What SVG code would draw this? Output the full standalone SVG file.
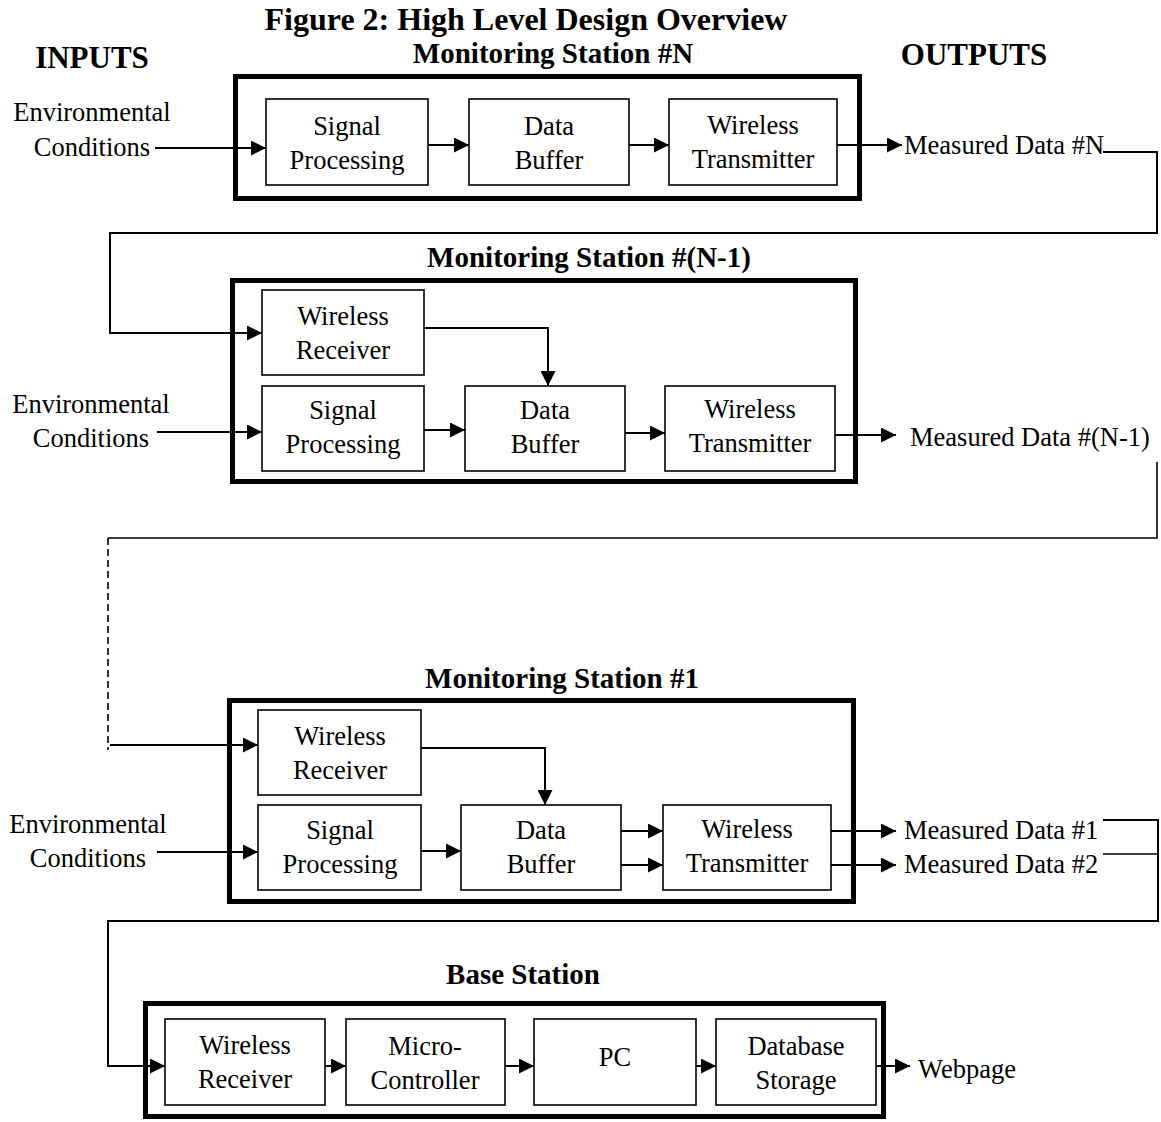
<svg xmlns="http://www.w3.org/2000/svg" width="1161" height="1122" viewBox="0 0 1161 1122">
  <defs>
    <marker id="arrow" markerUnits="userSpaceOnUse" markerWidth="15" markerHeight="15" refX="15" refY="7.5" orient="auto">
      <path d="M0,0 L15,7.5 L0,15 z" fill="#000"/>
    </marker>
    <style>
      text { font-family: "Liberation Serif", "Times New Roman", serif; fill: #000; }
      .lbl { font-size: 26.5px; text-anchor: middle; }
      .out { font-size: 26.5px; }
      .title { font-size: 32px; font-weight: bold; text-anchor: middle; }
      .head { font-size: 31px; font-weight: bold; text-anchor: middle; }
      .stitle { font-size: 29px; font-weight: bold; text-anchor: middle; }
      .station { fill: none; stroke: #000; stroke-width: 5; }
      .block { fill: #fff; stroke: #000; stroke-width: 1.6; }
      .wire { fill: none; stroke: #000; stroke-width: 1.6; }
      .flow { fill: none; stroke: #000; stroke-width: 2; marker-end: url(#arrow); }
      .dash { fill: none; stroke: #000; stroke-width: 1.6; stroke-dasharray: 7 4; }
    </style>
  </defs>
  <rect width="1161" height="1122" fill="#fff"/>

  <!-- headings -->
  <text class="title" x="526" y="30">Figure 2: High Level Design Overview</text>
  <text class="head" x="92" y="68">INPUTS</text>
  <text class="head" x="974" y="65">OUTPUTS</text>

  <!-- input / output labels -->
  <g id="inputs">
    <text class="lbl" x="92" y="121">Environmental</text>
    <text class="lbl" x="92" y="156">Conditions</text>
    <text class="lbl" x="91" y="413">Environmental</text>
    <text class="lbl" x="91" y="447">Conditions</text>
    <text class="lbl" x="88" y="833">Environmental</text>
    <text class="lbl" x="88" y="867">Conditions</text>
  </g>
  <g id="outputs">
    <text class="out" x="904" y="154">Measured Data #N</text>
    <text class="out" x="910" y="446">Measured Data #(N-1)</text>
    <text class="out" x="904" y="839">Measured Data #1</text>
    <text class="out" x="904" y="873">Measured Data #2</text>
    <text class="out" x="918" y="1078">Webpage</text>
  </g>

  <!-- Monitoring Station #N -->
  <g id="station-n">
    <text class="stitle" x="553" y="63">Monitoring Station #N</text>
    <rect class="station" x="235.5" y="76.5" width="624" height="122"/>
    <g id="n-signal">
      <rect class="block" x="266" y="99" width="162" height="86"/>
      <text class="lbl" x="347" y="135">Signal</text>
      <text class="lbl" x="347" y="169">Processing</text>
    </g>
    <g id="n-buffer">
      <rect class="block" x="469" y="99" width="160" height="86"/>
      <text class="lbl" x="549" y="135">Data</text>
      <text class="lbl" x="549" y="169">Buffer</text>
    </g>
    <g id="n-transmitter">
      <rect class="block" x="669" y="99" width="168" height="86"/>
      <text class="lbl" x="753" y="134">Wireless</text>
      <text class="lbl" x="753" y="168">Transmitter</text>
    </g>
  </g>

  <!-- Monitoring Station #(N-1) -->
  <g id="station-n1">
    <text class="stitle" x="589" y="267">Monitoring Station #(N-1)</text>
    <rect class="station" x="232.5" y="280.5" width="623" height="201"/>
    <g id="n1-receiver">
      <rect class="block" x="262" y="290" width="162" height="85"/>
      <text class="lbl" x="343" y="325">Wireless</text>
      <text class="lbl" x="343" y="359">Receiver</text>
    </g>
    <g id="n1-signal">
      <rect class="block" x="262" y="386" width="162" height="85"/>
      <text class="lbl" x="343" y="419">Signal</text>
      <text class="lbl" x="343" y="453">Processing</text>
    </g>
    <g id="n1-buffer">
      <rect class="block" x="465" y="386" width="160" height="85"/>
      <text class="lbl" x="545" y="419">Data</text>
      <text class="lbl" x="545" y="453">Buffer</text>
    </g>
    <g id="n1-transmitter">
      <rect class="block" x="665" y="386" width="170" height="85"/>
      <text class="lbl" x="750" y="418">Wireless</text>
      <text class="lbl" x="750" y="452">Transmitter</text>
    </g>
  </g>

  <!-- Monitoring Station #1 -->
  <g id="station-1">
    <text class="stitle" x="562" y="688">Monitoring Station #1</text>
    <rect class="station" x="229.5" y="700.5" width="624" height="201"/>
    <g id="s1-receiver">
      <rect class="block" x="258" y="710" width="163" height="85"/>
      <text class="lbl" x="340" y="745">Wireless</text>
      <text class="lbl" x="340" y="779">Receiver</text>
    </g>
    <g id="s1-signal">
      <rect class="block" x="258" y="805" width="163" height="85"/>
      <text class="lbl" x="340" y="839">Signal</text>
      <text class="lbl" x="340" y="873">Processing</text>
    </g>
    <g id="s1-buffer">
      <rect class="block" x="461" y="805" width="160" height="85"/>
      <text class="lbl" x="541" y="839">Data</text>
      <text class="lbl" x="541" y="873">Buffer</text>
    </g>
    <g id="s1-transmitter">
      <rect class="block" x="663" y="805" width="168" height="85"/>
      <text class="lbl" x="747" y="838">Wireless</text>
      <text class="lbl" x="747" y="872">Transmitter</text>
    </g>
  </g>

  <!-- Base Station -->
  <g id="base-station">
    <text class="stitle" x="523" y="984">Base Station</text>
    <rect class="station" x="145.5" y="1003.5" width="738" height="113"/>
    <g id="base-receiver">
      <rect class="block" x="165" y="1019" width="160" height="86"/>
      <text class="lbl" x="245" y="1054">Wireless</text>
      <text class="lbl" x="245" y="1088">Receiver</text>
    </g>
    <g id="base-controller">
      <rect class="block" x="346" y="1019" width="159" height="86"/>
      <text class="lbl" x="425" y="1055">Micro-</text>
      <text class="lbl" x="425" y="1089">Controller</text>
    </g>
    <g id="base-pc">
      <rect class="block" x="534" y="1019" width="162" height="86"/>
      <text class="lbl" x="615" y="1066">PC</text>
    </g>
    <g id="base-storage">
      <rect class="block" x="716" y="1019" width="160" height="86"/>
      <text class="lbl" x="796" y="1055">Database</text>
      <text class="lbl" x="796" y="1089">Storage</text>
    </g>
  </g>

  <!-- connectors -->
  <g id="connectors">
    <!-- station #N -->
    <path class="flow" d="M155,148 H266"/>
    <path class="flow" d="M428,145 H469"/>
    <path class="flow" d="M629,145 H669"/>
    <path class="flow" d="M837,145 H902"/>
    <path class="flow" d="M1103,152 H1157 V233 H110 V333 H262"/>
    <!-- station #(N-1) -->
    <path class="flow" d="M424,328 H548 V386"/>
    <path class="flow" d="M157,432 H262"/>
    <path class="flow" d="M424,430 H465"/>
    <path class="flow" d="M625,433 H665"/>
    <path class="flow" d="M835,435 H896"/>
    <path class="wire" d="M1157,462 V538 H108"/>
    <path class="dash" d="M108,538 V750"/>
    <path class="flow" d="M110,745 H258"/>
    <!-- station #1 -->
    <path class="flow" d="M421,748 H545 V805"/>
    <path class="flow" d="M157,852 H258"/>
    <path class="flow" d="M421,851 H461"/>
    <path class="flow" d="M621,831 H663"/>
    <path class="flow" d="M621,865 H663"/>
    <path class="flow" d="M831,831 H896"/>
    <path class="flow" d="M831,865 H896"/>
    <path class="wire" d="M1103,854 H1158"/>
    <path class="flow" d="M1103,820 H1158 V921 H108 V1066 H165"/>
    <!-- base station -->
    <path class="flow" d="M325,1066 H346"/>
    <path class="flow" d="M505,1066 H534"/>
    <path class="flow" d="M696,1066 H716"/>
    <path class="flow" d="M876,1066 H910"/>
  </g>
</svg>
